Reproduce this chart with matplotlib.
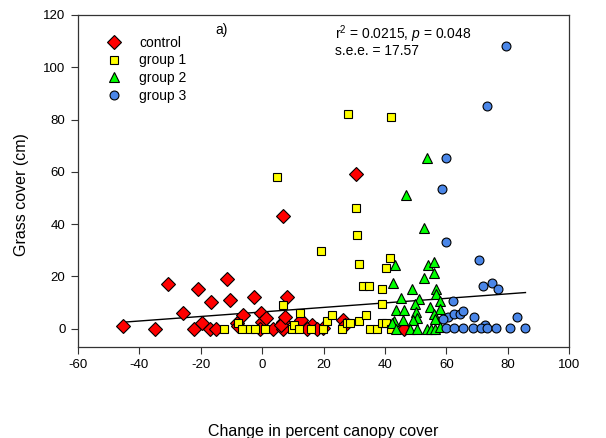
import matplotlib
matplotlib.use("Agg")
import matplotlib.pyplot as plt
import numpy as np

plt.rcParams['font.family'] = ['Liberation Sans', 'DejaVu Sans']
plt.rcParams['mathtext.fontset'] = 'custom'
plt.rcParams['mathtext.rm'] = 'Liberation Sans'
plt.rcParams['mathtext.it'] = 'Liberation Sans:italic'
plt.rcParams['axes.unicode_minus'] = False

# change in canopy cover (x) and grass cover (y) per treatment
control_x = [-45.4, -34.9, -30.6, -25.9, -20.8, -16.5, -11.3, -10.6, -22.1, -19.7,
             -17.0, -15.0, -8.3, -8.0, -6.2, -2.7, -0.4, -0.2, 1.1, 3.6,
             6.7, 6.9, 6.3, 7.6, 8.0, 12.8, 16.1, 19.9, 26.4, 27.0,
             6.9, 30.5, 46.2, 14.5, 18.0, -0.7]
control_y = [0.9, 0, 17.2, 6.1, 15, 10.2, 19.1, 11.1, 0, 2.1,
             0, 0, 2.1, 1.0, 5.4, 12.1, 6.1, 2.5, 4.1, 0,
             2.5, 0, 1.3, 4.4, 12.1, 3.2, 1.3, 0.4, 3.2, 1.3,
             43, 59, 0, 0, 0, 0]

group1_x = [-12.4, -7.8, -6.7, -4.0, -2.3, 0.9, 6.7, 9.6, 10.4, 12.0,
            12.3, 15.8, 19.7, 19.3, 21.0, 22.8, 25.9, 27.8, 28.0, 5.0,
            30.7, 30.9, 31.5, 31.6, 32.9, 34.9, 33.8, 35.3, 37.3, 38.9,
            39.2, 38.9, 40.5, 40.5, 41.8, 42.0, 42.1, 28.6]
group1_y = [0, 2.1, 0, 0, 0, 0, 9.2, 0, 1.6, 0,
            6.1, 0, 0, 29.6, 2.9, 5.1, 0, 2.3, 82, 58,
            46, 36, 24.9, 2.9, 16.3, 16.3, 5.1, 0, 0, 15,
            9.3, 2.0, 2.0, 23.4, 27, 81, 0, 2.1]

group2_x = [42.5, 43.3, 47.0, 52.8, 53.6, 54.1, 56.0, 56.0, 52.7, 48.8,
            56.6, 56.6, 45.2, 51.2, 57.9, 54.6, 49.8, 43.5, 46.2, 50.1,
            57.9, 55.9, 50.6, 46.0, 43.0, 49.2, 56.2, 42.4, 43.6, 48.1,
            50.3, 53.6, 55.1, 56.2, 57.9]
group2_y = [17.5, 24.5, 51.2, 38.4, 65.4, 24.5, 25.5, 21.4, 19.4, 15.3,
            15.3, 13.4, 11.6, 11.4, 10.5, 8.3, 9.6, 7.3, 7.3, 6.4,
            7.4, 5.7, 4.2, 3.4, 2.8, 3.4, 3.8, 2.1, 0, 0,
            0, 0, 0, 0, 0.5]

group3_x = [79.5, 73.3, 59.8, 58.6, 59.8, 70.7, 72.0, 75.0, 76.7, 62.3,
            83.2, 69.1, 60.6, 62.5, 64.4, 65.3, 58.8, 72.6, 60.0, 62.5,
            65.4, 68.7, 71.2, 73.4, 76.2, 80.7, 85.8]
group3_y = [108, 85.3, 65.4, 53.3, 33.3, 26.3, 16.3, 17.5, 15.3, 10.5,
            4.3, 4.3, 4.3, 5.6, 5.6, 6.6, 3.6, 1.6, 0.2, 0.2,
            0.2, 0.2, 0.2, 0.2, 0.2, 0.2, 0.2]

# linear fit over all points
fit_intercept = 6.4
fit_slope = 0.0865

fig = plt.figure(figsize=(6.06, 4.38), dpi=100)
ax = fig.add_axes([0.1287, 0.2078, 0.8103, 0.758])

all_x = control_x + group1_x + group2_x + group3_x
fx = np.array([min(all_x), max(all_x)])
ax.plot(fx, fit_intercept + fit_slope * fx, color='black', lw=1, zorder=1)

ax.plot(control_x, control_y, 'D', ms=6.8, mfc='#FF0000', mec='black', mew=0.8,
        ls='none', label='control', zorder=3)
ax.plot(group1_x, group1_y, 's', ms=6.2, mfc='#FFFF00', mec='black', mew=0.8,
        ls='none', label='group 1', zorder=3)
ax.plot(group2_x, group2_y, '^', ms=7, mfc='#00FF00', mec='black', mew=0.8,
        ls='none', label='group 2', zorder=3)
ax.plot(group3_x, group3_y, 'o', ms=6.4, mfc='#4A86E8', mec='black', mew=0.8,
        ls='none', label='group 3', zorder=3)

ax.set_xlim(-60, 100)
ax.set_ylim(-7, 120)
ax.set_xticks(np.arange(-60, 101, 20))
ax.set_yticks(np.arange(0, 121, 20))
ax.tick_params(direction='out', length=5, width=0.8, labelsize=9.5, color='#333333',
               top=False, right=False, pad=4)
for s in ax.spines.values():
    s.set_linewidth(0.9)
    s.set_color('#333333')

ax.set_xlabel('Change in percent canopy cover', fontsize=11.5)
ax.xaxis.set_label_coords(0.5, -0.232)
ax.set_ylabel('Grass cover (cm)', fontsize=11.5)
ax.yaxis.set_label_coords(-0.1, 0.46)

leg = ax.legend(loc='upper left', bbox_to_anchor=(0.045, 0.958), frameon=False,
                fontsize=10, handletextpad=1.3, labelspacing=0.26, borderpad=0,
                handlelength=1.0)

ax.text(0.293, 0.955, 'a)', transform=ax.transAxes, ha='center', va='center', fontsize=10)
ax.text(0.524, 0.922, 'r$^2$ = 0.0215, $p$ = 0.048\ns.e.e. = 17.57',
        transform=ax.transAxes, ha='left', va='center', fontsize=10, linespacing=0.88)

fig.savefig('out.png', dpi=100)
